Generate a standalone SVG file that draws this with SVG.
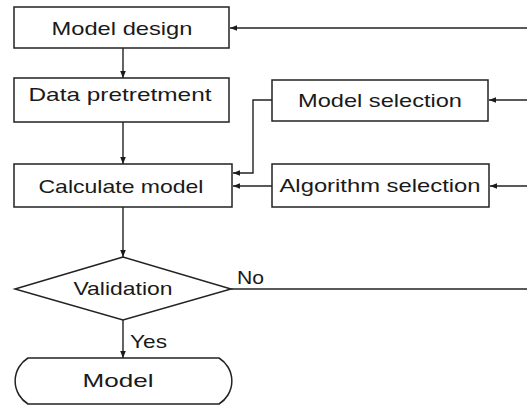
<svg xmlns="http://www.w3.org/2000/svg" width="527" height="407" viewBox="0 0 527 407">
<style>
.box{fill:#fff;stroke:#222;stroke-width:1.5}
.ln{fill:none;stroke:#222;stroke-width:1.4}
text{font-family:"Liberation Sans",Arial,sans-serif;font-size:19px;fill:#1a1a1a}
.c{text-anchor:middle}
</style>
<defs>
<marker id="ah" viewBox="0 0 10 10" refX="10" refY="5" markerWidth="7" markerHeight="7" markerUnits="userSpaceOnUse" orient="auto">
<path d="M0,1 L10,5 L0,9 z" fill="#1a1a1a"/>
</marker>
</defs>
<rect width="527" height="407" fill="#fff"/>
<g id="connectors">
<line class="ln" x1="123" y1="48" x2="123" y2="78" marker-end="url(#ah)"/>
<line class="ln" x1="123" y1="122" x2="123" y2="164" marker-end="url(#ah)"/>
<line class="ln" x1="123" y1="207" x2="123" y2="257" marker-end="url(#ah)"/>
<line class="ln" x1="123" y1="320" x2="123" y2="358" marker-end="url(#ah)"/>
<line class="ln" x1="231" y1="289" x2="527" y2="289"/>
<line class="ln" x1="527" y1="28" x2="230" y2="28" marker-end="url(#ah)"/>
<line class="ln" x1="527" y1="100" x2="489" y2="100" marker-end="url(#ah)"/>
<line class="ln" x1="527" y1="186" x2="490" y2="186" marker-end="url(#ah)"/>
<polyline class="ln" points="272,100 253,100 253,173 233,173" marker-end="url(#ah)"/>
<line class="ln" x1="272" y1="186" x2="233" y2="186" marker-end="url(#ah)"/>
</g>
<g id="model-design">
<rect class="box" x="14" y="7" width="215" height="41"/>
<text class="c" x="122" y="35" textLength="141" lengthAdjust="spacingAndGlyphs">Model design</text>
</g>
<g id="data-pretretment">
<rect class="box" x="14" y="78" width="215" height="44"/>
<text class="c" x="120" y="101" textLength="183" lengthAdjust="spacingAndGlyphs">Data pretretment</text>
</g>
<g id="model-selection">
<rect class="box" x="272" y="80" width="216" height="41"/>
<text class="c" x="380" y="107" textLength="164" lengthAdjust="spacingAndGlyphs">Model selection</text>
</g>
<g id="calculate-model">
<rect class="box" x="14" y="164" width="218" height="43"/>
<text class="c" x="121" y="193" textLength="165" lengthAdjust="spacingAndGlyphs">Calculate model</text>
</g>
<g id="algorithm-selection">
<rect class="box" x="272" y="164" width="217" height="43"/>
<text class="c" x="380" y="192" textLength="201" lengthAdjust="spacingAndGlyphs">Algorithm selection</text>
</g>
<g id="validation">
<polygon class="box" points="123,257 15,289 123,320 231,289"/>
<text class="c" x="123" y="295" textLength="99" lengthAdjust="spacingAndGlyphs">Validation</text>
</g>
<g id="labels">
<text x="237" y="284" textLength="27" lengthAdjust="spacingAndGlyphs">No</text>
<text x="130" y="348" textLength="37" lengthAdjust="spacingAndGlyphs">Yes</text>
</g>
<g id="model">
<path class="box" d="M28,358 H219 A27,27 0 0 1 219,404 H28 A27,27 0 0 1 28,358 Z"/>
<text class="c" x="118" y="387" textLength="71" lengthAdjust="spacingAndGlyphs">Model</text>
</g>
</svg>
